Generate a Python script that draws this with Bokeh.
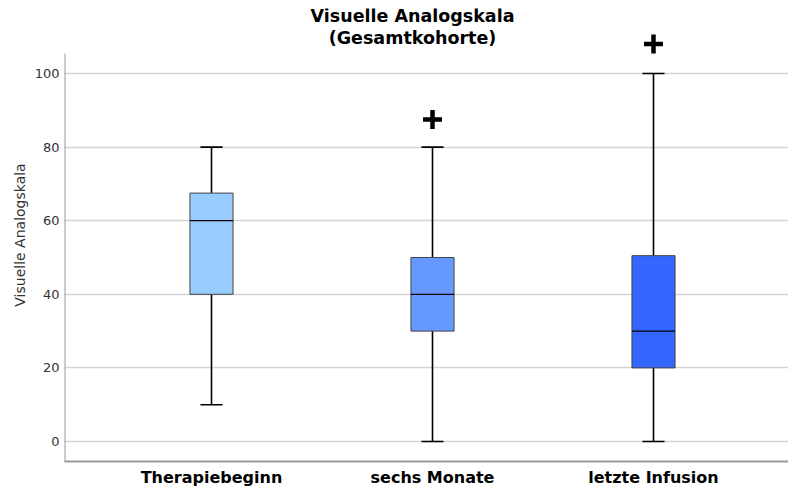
from bokeh.plotting import figure
from bokeh.models import Range1d, FixedTicker, Label, ColumnDataSource
from bokeh.embed import file_html
from bokeh.resources import INLINE

# ---- data ----
categories = ["Therapiebeginn", "sechs Monate", "letzte Infusion"]
lower_whisker = [10, 0, 0]
q1 = [40, 30, 20]
median = [60, 40, 30]
q3 = [67.5, 50, 50.5]
upper_whisker = [80, 80, 100]
box_colors = ["#99CCFF", "#6699FF", "#3366FF"]
outlier_cat = ["sechs Monate", "letzte Infusion"]
outlier_val = [87.5, 108]
y_ticks = [0, 20, 40, 60, 80, 100]
title_lines = ["Visuelle Analogskala", "(Gesamtkohorte)"]
y_label = "Visuelle Analogskala"

FONT = "DejaVu Sans"
TOP = 8
LEFT = 64
FW, FH = 724, 453     # frame size
px_x = 221.0          # pixels per category step
px_y = 3.68           # pixels per value unit

x_start = 1 - (211 - LEFT) / px_x
x_end = x_start + FW / px_x
y_top_val = 100 + (73 - TOP) / px_y
y_start = y_top_val - FH / px_y

p = figure(frame_width=FW, frame_height=FH, output_backend="svg", toolbar_location=None,
           x_range=Range1d(x_start, x_end), y_range=Range1d(y_start, y_top_val),
           min_border_left=LEFT, min_border_right=0, min_border_top=TOP,
           min_border_bottom=0, background_fill_color="white",
           border_fill_color="white", outline_line_color=None)

xs = [i + 1 for i in range(len(categories))]
src = ColumnDataSource(dict(x=xs, lw=lower_whisker, q1=q1, med=median, q3=q3,
                            uw=upper_whisker, color=box_colors))

# grid
p.xgrid.grid_line_color = None
p.ygrid.grid_line_color = "#d4d4d4"
p.ygrid.grid_line_width = 1.5
p.ygrid.ticker = FixedTicker(ticks=y_ticks)

# whiskers
p.segment(x0="x", y0="q3", x1="x", y1="uw", source=src, line_color="black", line_width=1.6)
p.segment(x0="x", y0="lw", x1="x", y1="q1", source=src, line_color="black", line_width=1.6)
cap = 0.05
src.data["xl"] = [x - cap for x in xs]
src.data["xr"] = [x + cap for x in xs]
p.segment(x0="xl", y0="uw", x1="xr", y1="uw", source=src, line_color="black", line_width=1.6)
p.segment(x0="xl", y0="lw", x1="xr", y1="lw", source=src, line_color="black", line_width=1.6)

# boxes
p.vbar(x="x", width=0.195, bottom="q1", top="q3", source=src, fill_color="color",
       line_color="#444444", line_width=1)
hw = 0.0975
src.data["ml"] = [x - hw for x in xs]
src.data["mr"] = [x + hw for x in xs]
p.segment(x0="ml", y0="med", x1="mr", y1="med", source=src, line_color="black", line_width=1.3)

# outliers
ox = [categories.index(c) + 1 for c in outlier_cat]
p.scatter(x=ox, y=outlier_val, marker="cross", size=19, line_width=4.5, line_color="black")

# custom y axis line (shorter than frame)
p.segment(x0=[x_start], y0=[y_start], x1=[x_start], y1=[105.4], line_color="#999999", line_width=2)

# y axis
p.yaxis.ticker = FixedTicker(ticks=y_ticks)
p.yaxis.axis_line_color = None
p.yaxis.major_tick_line_color = None
p.yaxis.minor_tick_line_color = None
p.yaxis.major_tick_out = 0
p.yaxis.major_tick_in = 0
p.yaxis.major_label_text_font = FONT
p.yaxis.major_label_text_font_size = "13px"
p.yaxis.major_label_text_color = "#333333"
p.yaxis.major_label_standoff = 5
p.yaxis.axis_label = y_label
p.yaxis.axis_label_text_font = FONT
p.yaxis.axis_label_text_font_size = "14px"
p.yaxis.axis_label_text_font_style = "normal"
p.yaxis.axis_label_text_color = "#333333"
p.yaxis.axis_label_standoff = 4

# x axis
p.xaxis.ticker = FixedTicker(ticks=xs)
p.xaxis.major_label_overrides = {x: c for x, c in zip(xs, categories)}
p.xaxis.axis_line_color = "#999999"
p.xaxis.axis_line_width = 2
p.xaxis.major_tick_line_color = None
p.xaxis.minor_tick_line_color = None
p.xaxis.major_tick_out = 0
p.xaxis.major_tick_in = 0
p.xaxis.major_label_text_font = FONT
p.xaxis.major_label_text_font_size = "16px"
p.xaxis.major_label_text_font_style = "bold"
p.xaxis.major_label_text_color = "black"
p.xaxis.major_label_standoff = 6

# title as labels
tx = x_start + (412 - LEFT) / px_x
for i, line in enumerate(title_lines):
    ty = y_top_val - (15 - TOP + 22 * i) / px_y
    p.add_layout(Label(x=tx, y=ty, text=line, text_align="center", text_baseline="middle",
                       text_font=FONT, text_font_size="17.5px", text_font_style="bold",
                       text_color="black"))

open("out.html", "w").write(file_html(p, INLINE))
